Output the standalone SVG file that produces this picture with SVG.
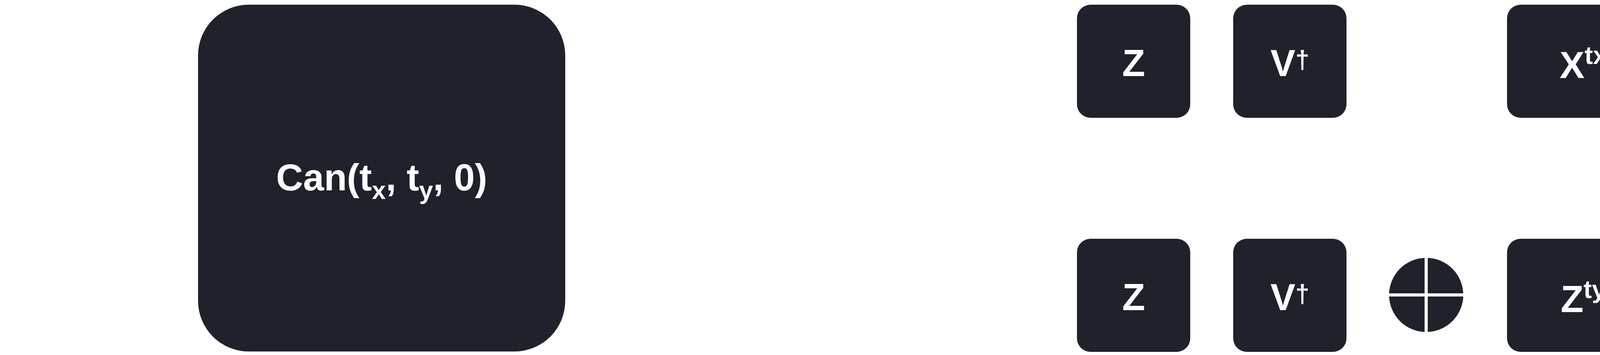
<svg xmlns="http://www.w3.org/2000/svg" width="5470" height="910" viewBox="0 0 5470 910">
<style>
.n{fill:#1f222b}
.t{fill:#fff;font-family:"Liberation Sans",Arial,sans-serif;font-weight:bold;font-size:96px;text-anchor:middle}
.s{font-size:64px}
.c{fill:#1f222b}
.l{stroke:#fff;stroke-width:8}
</style>
<rect width="5470" height="910" fill="#fff"/>
<g id="can"><rect class="n" x="507" y="12" width="940" height="889" rx="130"/><text class="t" x="977" y="488">Can(t<tspan class="s" dy="22">x</tspan><tspan dy="-22">, t</tspan><tspan class="s" dy="22">y</tspan><tspan dy="-22">, 0)</tspan></text></g>
<g id="z1"><rect class="n" x="2757" y="12" width="290" height="290" rx="35"/><text class="t" x="2902" y="195">Z</text></g>
<g id="vd1"><rect class="n" x="3157" y="12" width="290" height="290" rx="35"/><text class="t" x="3302" y="195">V<tspan class="s" dy="-20">†</tspan></text></g>
<g id="xtx"><rect class="n" x="3858" y="12" width="390" height="290" rx="35"/><text class="t" x="4053" y="200">X<tspan class="s" dy="-36">t</tspan><tspan class="s" font-size="48" dy="0">x</tspan></text></g>
<g id="v1"><rect class="n" x="4680" y="12" width="290" height="290" rx="35"/><text class="t" x="4825" y="195">V</text></g>
<g id="z2"><rect class="n" x="5085" y="12" width="290" height="290" rx="35"/><text class="t" x="5230" y="195">Z</text></g>
<g id="z3"><rect class="n" x="2757" y="612" width="290" height="290" rx="35"/><text class="t" x="2902" y="795">Z</text></g>
<g id="vd2"><rect class="n" x="3157" y="612" width="290" height="290" rx="35"/><text class="t" x="3302" y="795">V<tspan class="s" dy="-20">†</tspan></text></g>
<g id="o1"><circle class="c" cx="3651" cy="756" r="95"/><line class="l" x1="3651" y1="656" x2="3651" y2="856"/><line class="l" x1="3551" y1="756" x2="3751" y2="756"/></g>
<g id="zty"><rect class="n" x="3858" y="612" width="390" height="290" rx="35"/><text class="t" x="4053" y="800">Z<tspan class="s" dy="-36">t</tspan><tspan class="s" font-size="48">y</tspan></text></g>
<g id="o2"><circle class="c" cx="4474" cy="756" r="95"/><line class="l" x1="4474" y1="656" x2="4474" y2="856"/><line class="l" x1="4374" y1="756" x2="4574" y2="756"/></g>
<g id="v2"><rect class="n" x="4680" y="612" width="290" height="290" rx="35"/><text class="t" x="4825" y="795">V</text></g>
<g id="z4"><rect class="n" x="5085" y="612" width="290" height="290" rx="35"/><text class="t" x="5230" y="795">Z</text></g>
<g id="connectors"/>
</svg>
